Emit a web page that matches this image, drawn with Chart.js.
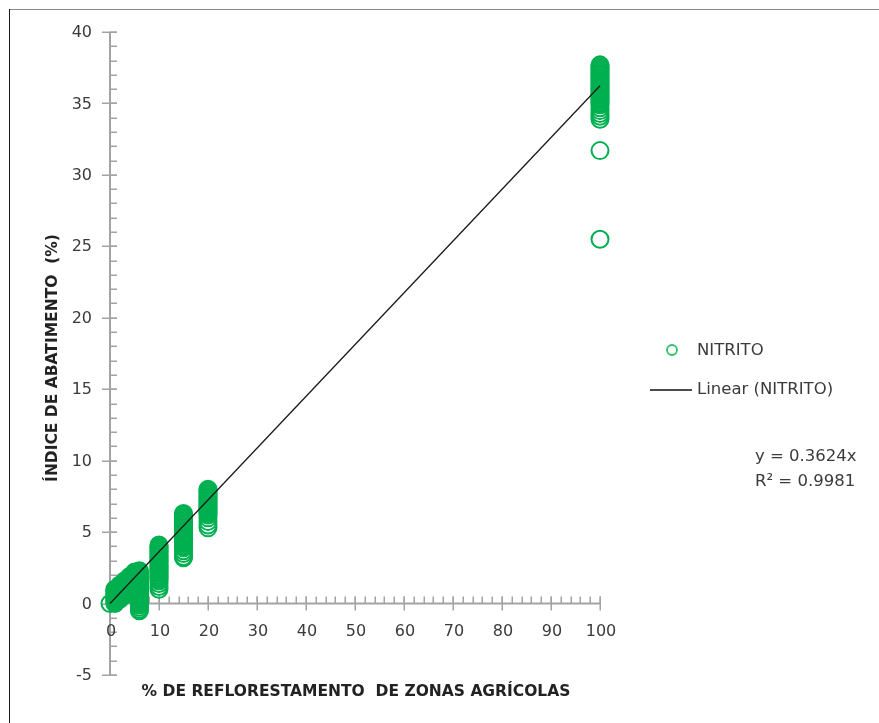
<!DOCTYPE html>
<html>
<head>
<meta charset="utf-8">
<script src="https://cdn.jsdelivr.net/npm/chart.js@4/dist/chart.umd.min.js"></script>
<style>
  html, body { margin: 0; padding: 0; background: #ffffff; }
  #wrap { position: relative; width: 879px; height: 723px; }
  canvas { display: block; }
</style>
</head>
<body>
<div id="wrap"><canvas id="chart" width="879" height="723"></canvas></div>
<script>
// ---- labels ----
const seriesName = 'NITRITO';
const trendName = 'Linear (NITRITO)';
const xTitle = '% DE REFLORESTAMENTO  DE ZONAS AGRÍCOLAS';
const yTitle = 'ÍNDICE DE ABATIMENTO  (%)';

// ---- linear trend (forced through origin) ----
const slope = 0.3624;
const rSquared = 0.9981;

// ---- axis ticks ----
const xTicks = [0, 10, 20, 30, 40, 50, 60, 70, 80, 90, 100];
const yTicks = [-5, 0, 5, 10, 15, 20, 25, 30, 35, 40];

// ---- abatement index (%) observed at each reforestation level (%) ----
const levels = [0, 1, 2, 3, 4, 5, 6, 10, 15, 20, 100];
const at0 = [0];
const at1 = [1.0, 0.9, 0.8, 0.7, 0.6, 0.5, 0.4, 0.3, 0.2, 0.1, 0.0];
const at2 = [1.3, 1.2, 1.1, 1.0, 0.9, 0.8, 0.7, 0.6, 0.5, 0.4, 0.3];
const at3 = [1.6, 1.5, 1.4, 1.3, 1.2, 1.1, 1.0, 0.9, 0.8, 0.7, 0.6];
const at4 = [1.9, 1.8, 1.7, 1.6, 1.5, 1.4, 1.3, 1.2, 1.1, 1.0, 0.9];
const at5 = [2.2, 2.1, 2.0, 1.9, 1.8, 1.7, 1.6, 1.5, 1.4, 1.3, 1.2, 1.1, 1.0];
const at6 = [2.3, 2.2, 2.1, 2.0, 1.9, 1.8, 1.7, 1.6, 1.5, 1.4, 1.3, 1.2, 1.1, 1.0, 0.9, 0.8,
             0.7, 0.6, 0.5, 0.4, 0.3, 0.2, 0.1, 0.0, -0.1, -0.25, -0.4, -0.5];
const at10 = [4.1, 4.0, 3.9, 3.8, 3.7, 3.6, 3.5, 3.4, 3.3, 3.2, 3.1, 3.0, 2.9, 2.8, 2.7, 2.6,
              2.5, 2.4, 2.3, 2.2, 2.1, 2.0, 1.9, 1.8, 1.7, 1.6, 1.4, 1.2, 1.0];
const at15 = [6.3, 6.2, 6.1, 6.0, 5.9, 5.8, 5.7, 5.6, 5.5, 5.4, 5.3, 5.2, 5.1, 5.0, 4.9, 4.8,
              4.7, 4.6, 4.5, 4.4, 4.3, 4.2, 4.1, 4.0, 3.9, 3.7, 3.5, 3.3, 3.2];
const at20 = [8.0, 7.9, 7.8, 7.7, 7.6, 7.5, 7.4, 7.3, 7.2, 7.1, 7.0, 6.9, 6.8, 6.7, 6.6, 6.5,
              6.4, 6.3, 6.2, 6.0, 5.75, 5.5, 5.3];
const at100 = [37.7, 37.6, 37.5, 37.4, 37.3, 37.2, 37.1, 37.0, 36.9, 36.8, 36.7, 36.6, 36.5,
               36.4, 36.3, 36.2, 36.1, 36.0, 35.9, 35.8, 35.7, 35.6, 35.5, 35.4, 35.3, 35.2,
               35.1, 35.0, 34.9, 34.7, 34.5, 34.3, 34.1, 33.9, 31.7, 25.5];

const groups = [at0, at1, at2, at3, at4, at5, at6, at10, at15, at20, at100];
const points = [];
groups.forEach((vals, i) => vals.forEach(v => points.push({ x: levels[i], y: v })));

const trendPoints = [{ x: 0, y: 0 }, { x: 100, y: slope * 100 }];

// ---- styling ----
const green = '#00b050';
const axisColor = '#a3a3a3';
const textColor = '#3b3b3b';
const titleColor = '#222222';
const tickFont = '16px "DejaVu Sans"';
const titleFont = 'bold 15.5px "DejaVu Sans"';
const legendFont = '16.5px "DejaVu Sans"';

// Excel-style axes: crossing major ticks, inside minor ticks, x axis at y = 0
const excelAxes = {
  id: 'excelAxes',
  beforeDatasetsDraw(chart) {
    const { ctx } = chart;
    const xs = chart.scales.x, ys = chart.scales.y;
    const ox = xs.getPixelForValue(0);
    const oy = ys.getPixelForValue(0);
    ctx.save();

    // frame
    ctx.lineWidth = 1;
    ctx.strokeStyle = '#8a8a8a';
    ctx.beginPath(); ctx.moveTo(9, 9.5); ctx.lineTo(879, 9.5); ctx.stroke();
    ctx.strokeStyle = '#1a1a1a';
    ctx.beginPath(); ctx.moveTo(9.5, 9); ctx.lineTo(9.5, 723); ctx.stroke();

    ctx.strokeStyle = axisColor;
    ctx.lineWidth = 2;
    // y axis line
    ctx.beginPath();
    ctx.moveTo(ox, ys.getPixelForValue(ys.max));
    ctx.lineTo(ox, ys.getPixelForValue(ys.min));
    ctx.stroke();
    // x axis line
    ctx.beginPath();
    ctx.moveTo(xs.getPixelForValue(xs.min), oy);
    ctx.lineTo(xs.getPixelForValue(xs.max), oy);
    ctx.stroke();

    ctx.lineWidth = 1.5;
    // y minor ticks every 1
    for (let v = ys.min; v <= ys.max; v += 1) {
      const py = Math.round(ys.getPixelForValue(v)) + 0.25;
      ctx.beginPath(); ctx.moveTo(ox, py); ctx.lineTo(ox + 7, py); ctx.stroke();
    }
    // y major ticks
    yTicks.forEach(v => {
      const py = Math.round(ys.getPixelForValue(v)) + 0.25;
      ctx.beginPath(); ctx.moveTo(ox - 8, py); ctx.lineTo(ox + 7, py); ctx.stroke();
    });
    // x minor ticks every 2
    for (let v = xs.min; v <= xs.max; v += 2) {
      const px = Math.round(xs.getPixelForValue(v)) + 0.25;
      ctx.beginPath(); ctx.moveTo(px, oy); ctx.lineTo(px, oy - 7); ctx.stroke();
    }
    // x major ticks
    xTicks.forEach(v => {
      const px = Math.round(xs.getPixelForValue(v)) + 0.25;
      ctx.beginPath(); ctx.moveTo(px, oy + 7); ctx.lineTo(px, oy - 7); ctx.stroke();
    });

    // tick labels
    ctx.fillStyle = textColor;
    ctx.font = tickFont;
    ctx.textAlign = 'right';
    ctx.textBaseline = 'middle';
    yTicks.forEach(v => ctx.fillText(String(v), ox - 18, ys.getPixelForValue(v) + 1));
    ctx.textAlign = 'center';
    xTicks.forEach(v => ctx.fillText(String(v), xs.getPixelForValue(v) + 1, oy + 28));

    // axis titles
    ctx.fillStyle = titleColor;
    ctx.font = titleFont;
    ctx.textAlign = 'center';
    ctx.textBaseline = 'middle';
    ctx.fillText(xTitle, 356, 692);
    ctx.save();
    ctx.translate(53, 358);
    ctx.rotate(-Math.PI / 2);
    ctx.fillText(yTitle, 0, 0);
    ctx.restore();

    ctx.restore();
  },
  afterDraw(chart) {
    const { ctx } = chart;
    ctx.save();
    // legend
    ctx.strokeStyle = '#2fc06a';
    ctx.lineWidth = 1.8;
    ctx.beginPath(); ctx.arc(672, 350, 5, 0, Math.PI * 2); ctx.stroke();
    ctx.strokeStyle = '#111111';
    ctx.lineWidth = 1.3;
    ctx.beginPath(); ctx.moveTo(650, 390); ctx.lineTo(692, 390); ctx.stroke();
    ctx.fillStyle = textColor;
    ctx.font = legendFont;
    ctx.textAlign = 'left';
    ctx.textBaseline = 'middle';
    ctx.fillText(seriesName, 697, 351);
    ctx.fillText(trendName, 697, 390);
    // trend equation
    ctx.fillText('y = ' + slope.toFixed(4) + 'x', 755, 457);
    ctx.fillText('R\u00B2 = ' + rSquared.toFixed(4), 755, 482);
    ctx.restore();
  }
};

new Chart(document.getElementById('chart'), {
  type: 'scatter',
  data: {
    datasets: [
      {
        label: trendName,
        data: trendPoints,
        showLine: true,
        borderColor: '#1a1a1a',
        borderWidth: 1.3,
        pointRadius: 0,
        fill: false,
        order: 0,
        clip: false
      },
      {
        label: seriesName,
        data: points,
        pointStyle: 'circle',
        pointRadius: 8.5,
        pointBorderWidth: 2,
        borderColor: green,
        backgroundColor: 'rgba(0,0,0,0)',
        pointBackgroundColor: 'rgba(0,0,0,0)',
        pointBorderColor: green,
        order: 1,
        clip: false
      }
    ]
  },
  options: {
    responsive: false,
    animation: false,
    devicePixelRatio: 1,
    layout: { padding: { left: 110, right: 279, top: 32, bottom: 48 } },
    plugins: { legend: { display: false }, tooltip: { enabled: false }, title: { display: false } },
    scales: {
      x: { type: 'linear', min: 0, max: 100, display: false },
      y: { type: 'linear', min: -5, max: 40, display: false }
    }
  },
  plugins: [excelAxes]
});
</script>
</body>
</html>
